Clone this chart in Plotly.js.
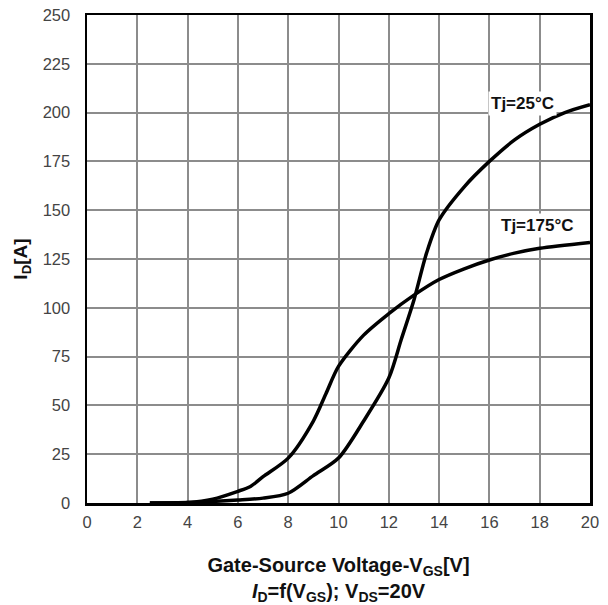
<!DOCTYPE html>
<html>
<head>
<meta charset="utf-8">
<script src="https://cdn.plot.ly/plotly-3.0.1.min.js"></script>
<style>html,body{margin:0;padding:0;background:#fff;}#chart{width:608px;height:605px;}</style>
</head>
<body>
<div id="chart"></div>
<script>
const x25 = [2.5, 4, 5, 6, 7, 8, 9, 10, 11, 12, 12.5, 13, 13.5, 14, 15, 16, 17, 18, 19, 20];
const y25 = [0, 0.2, 0.8, 1.5, 2.5, 5, 14, 23, 42, 64, 84, 104, 128, 145, 162, 175, 186, 194, 200, 204];
const x175 = [2.5, 4, 5, 6, 6.5, 7, 8, 9, 9.5, 10, 11, 12, 13, 14, 15, 16, 17, 18, 20];
const y175 = [0, 0.3, 2, 6, 8.5, 13.5, 23, 42, 56, 70, 86, 97, 106.5, 114.5, 120, 124.5, 128, 130.5, 133.5];
const xTicks = [0, 2, 4, 6, 8, 10, 12, 14, 16, 18, 20];
const yTicks = [0, 25, 50, 75, 100, 125, 150, 175, 200, 225, 250];
const labels = ["Tj=25°C", "Tj=175°C"];
const labelX = [17.3, 17.9];
const labelY = [204.6, 142];

const lineStyle = {color: '#000', width: 3.5, shape: 'spline', smoothing: 0.8};
const traces = [
  {x: x25, y: y25, mode: 'lines', line: lineStyle, hoverinfo: 'skip'},
  {x: x175, y: y175, mode: 'lines', line: lineStyle, hoverinfo: 'skip'}
];
const FONT = 'Liberation Sans, Arial, sans-serif';
const tickFont = {family: FONT, size: 16.5, color: '#444'};
const layout = {
  width: 608, height: 605,
  margin: {l: 87, r: 18, t: 15, b: 102},
  paper_bgcolor: '#fff', plot_bgcolor: '#fff',
  showlegend: false,
  xaxis: {
    range: [0, 20], tickvals: xTicks, ticktext: xTicks.map(String),
    showgrid: true, gridcolor: '#8c8c8c', gridwidth: 2,
    showline: true, linecolor: '#000', linewidth: 2.5, mirror: true,
    zeroline: false, ticks: '', ticklen: 0, tickfont: tickFont, ticklabelstandoff: 3,
    title: {text: '<b>Gate-Source Voltage-V<sub>GS</sub>[V]<br><i>I</i><sub>D</sub>=f(V<sub>GS</sub>); V<sub>DS</sub>=20V</b>',
            font: {family: FONT, size: 20, color: '#111'}, standoff: 29}
  },
  yaxis: {
    range: [0, 250], tickvals: yTicks, ticktext: yTicks.map(String),
    showgrid: true, gridcolor: '#8c8c8c', gridwidth: 2,
    showline: true, linecolor: '#000', linewidth: 2.5, mirror: true,
    zeroline: false, ticks: '', ticklen: 0, tickfont: tickFont, ticklabelstandoff: 11,
    title: {text: '<b>I<sub>D</sub>[A]</b>', font: {family: FONT, size: 19, color: '#111'}, standoff: 10}
  },
  annotations: labels.map((t, i) => ({
    x: labelX[i], y: labelY[i], xref: 'x', yref: 'y', text: '<b>' + t + '</b>',
    showarrow: false, bgcolor: '#fff', borderpad: 2,
    font: {family: FONT, size: 17, color: '#111'}
  }))
};
Plotly.newPlot('chart', traces, layout, {displayModeBar: false, staticPlot: true});
</script>
</body>
</html>
